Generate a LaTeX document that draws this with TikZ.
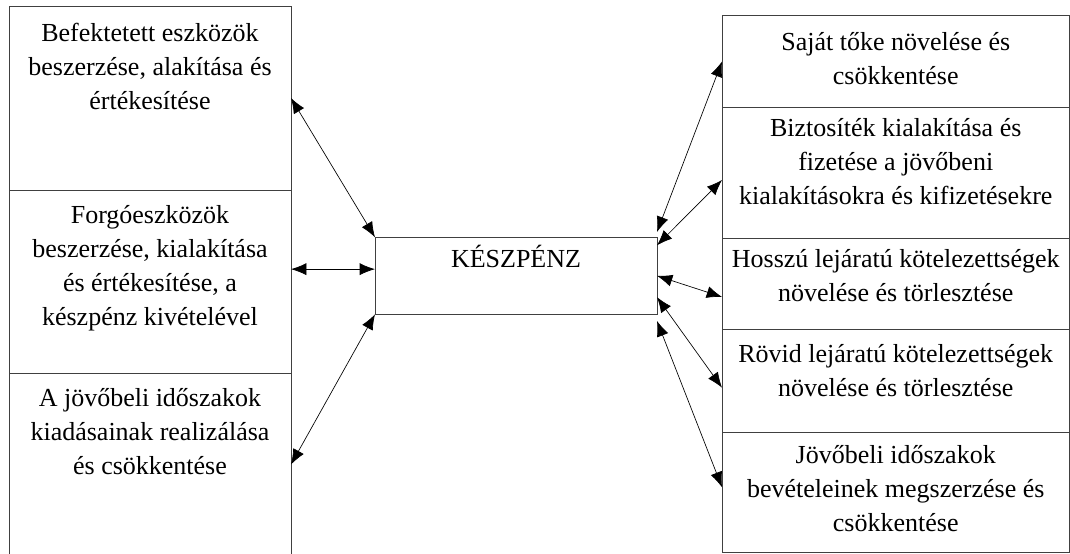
\documentclass[tikz,border=0pt]{standalone}
\usepackage{fontspec}
\setmainfont{Liberation Serif}
\usetikzlibrary{positioning,arrows.meta}

\tikzset{
  box/.style={draw=black!75, line width=0.6pt, outer sep=0pt, inner sep=0pt},
  lbox/.style={box, minimum width=211.5pt},
  rbox/.style={box, minimum width=260.6pt},
  txt/.style={align=center, inner sep=0pt, font=\fontsize{19.5}{25.5}\selectfont},
  dbl/.style={{Latex[length=11.5pt,width=9pt]}-{Latex[length=11.5pt,width=9pt]}, line width=0.5pt}
}

\begin{document}
\begin{tikzpicture}[x=0.75pt, y=-0.75pt, node distance=0pt]
    \useasboundingbox (0,0) rectangle (1070,553);

    % left column
    \node (lb1) [lbox, minimum height=138pt] at (150,98) {};
    \node (lb2) [lbox, minimum height=137.25pt, below=of lb1] {};
    \node (lb3) [lbox, minimum height=137.25pt, below=of lb2] {};

    % middle
    \node (cash) [box, minimum width=211.5pt, minimum height=57.75pt] at (516,275.8) {};

    % right column
    \node (rb1) [rbox, minimum height=68.7pt] at (895.75,61.5) {};
    \node (rb2) [rbox, minimum height=98pt, below=of rb1] {};
    \node (rb3) [rbox, minimum height=68.5pt, below=of rb2] {};
    \node (rb4) [rbox, minimum height=77.55pt, below=of rb3] {};
    \node (rb5) [rbox, minimum height=89.85pt, below=of rb4] {};

    % texts
    \node (lb1t) [txt, below=12.5pt of lb1.north] {Befektetett eszközök\\beszerzése, alakítása és\\értékesítése};
    \node (lb2t) [txt, below=11.5pt of lb2.north] {Forgóeszközök\\beszerzése, kialakítása\\és értékesítése, a\\készpénz kivételével};
    \node (lb3t) [txt, below=11pt of lb3.north] {A jövőbeli időszakok\\kiadásainak realizálása\\és csökkentése};
    \node (casht) [txt, below=6pt of cash.north] {KÉSZPÉNZ};
    \node (rb1t) [txt, below=12pt of rb1.north] {Saját tőke növelése és\\csökkentése};
    \node (rb2t) [txt, below=8.5pt of rb2.north] {Biztosíték kialakítása és\\fizetése a jövőbeni\\kialakításokra és kifizetésekre};
    \node (rb3t) [txt, below=8.5pt of rb3.north] {Hosszú lejáratú kötelezettségek\\növelése és törlesztése};
    \node (rb4t) [txt, below=11.5pt of rb4.north] {Rövid lejáratú kötelezettségek\\növelése és törlesztése};
    \node (rb5t) [txt, below=9.5pt of rb5.north] {Jövőbeli időszakok\\bevételeinek megszerzése és\\csökkentése};

    % connectors
    \coordinate (c2) at ([yshift=5pt]cash.west);
    \draw [dbl] (lb1.east) -- (cash.north west);
    \draw [dbl] (lb2.east |- c2) -- (c2);
    \draw [dbl] (lb3.east) -- (cash.south west);

    \draw [dbl] ([yshift=4pt]cash.north east) -- (rb1.west);
    \draw [dbl] ([yshift=-6pt]cash.north east) -- ([yshift=-5.5pt]rb2.west);
    \draw [dbl] (cash.east) -- ([yshift=-10pt]rb3.west);
    \draw [dbl] ([yshift=-16pt]cash.east) -- ([yshift=-5pt]rb4.west);
    \draw [dbl] ([yshift=-5pt]cash.south east) -- ([yshift=4pt]rb5.west);
\end{tikzpicture}
\end{document}
